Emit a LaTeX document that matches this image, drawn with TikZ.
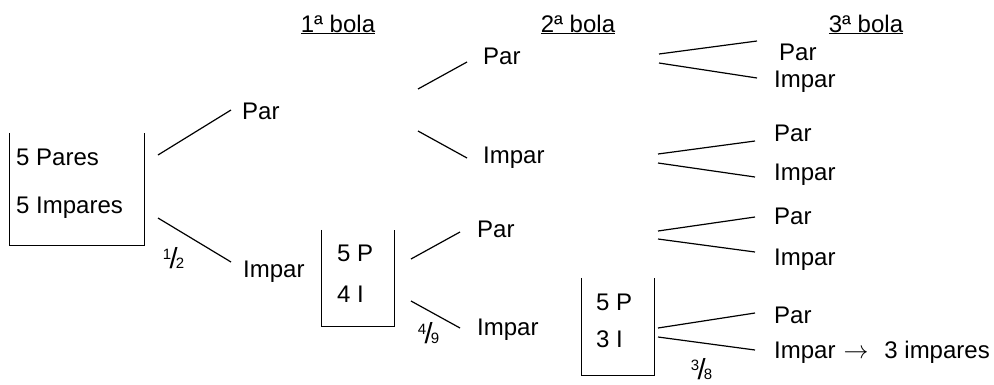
\documentclass[tikz,border=0pt]{standalone}
\usepackage{fontspec}
\setmainfont{Liberation Sans}
\newcommand{\fracbola}[2]{\raisebox{9pt}{#1}\kern-1.5pt{\fontsize{29}{29}\selectfont/}\kern-2pt#2}

\begin{document}
\begin{tikzpicture}[x=1pt,y=-1pt,
    lbl/.style={anchor=base west,inner sep=0pt,font=\fontsize{24}{28}\selectfont},
    cabeza/.style={anchor=base,inner sep=0pt,font=\fontsize{24}{28}\selectfont},
    frac/.style={inner sep=0pt,font=\fontsize{15}{15}\selectfont},
    urna/.style={inner sep=0pt,minimum width=72pt},
    rama/.style={line width=1.2pt}]
  \useasboundingbox (0,0) rectangle (994,384);
  % titulos de columna
  \node[cabeza] (h1) at (338,32) {\underline{1ª bola}};
  \node[cabeza] (h2) at (578,32) {\underline{2ª bola}};
  \node[cabeza] (h3) at (866,32) {\underline{3ª bola}};
  % urnas
  \node[urna,minimum width=134pt,minimum height=112pt] (urna1) at (77,189) {};
  \node[urna,minimum height=96pt] (urna2) at (358,278) {};
  \node[urna,minimum height=97pt] (urna3) at (618,326.5) {};
  \foreach \u in {urna1,urna2,urna3}
    \draw[rama] (\u.north west) |- (\u.south east) -- (\u.north east);
  \node[lbl] (u1p) at (16,165) {5 Pares};
  \node[lbl] (u1i) at (16,213) {5 Impares};
  \node[lbl] (u2p) at (337,261) {5 P};
  \node[lbl] (u2i) at (337,302) {4 I};
  \node[lbl] (u3p) at (596,310) {5 P};
  \node[lbl] (u3i) at (596,347) {3 I};
  % 1a bola
  \node[lbl] (p1) at (242,119) {Par};
  \node[lbl] (i1) at (243,277) {Impar};
  % 2a bola
  \node[lbl] (pp) at (483,64) {Par};
  \node[lbl] (pi) at (483,163) {Impar};
  \node[lbl] (ip) at (477,237) {Par};
  \node[lbl] (ii) at (477,335) {Impar};
  % 3a bola
  \node[lbl] (ppp) at (779,60) {Par};
  \node[lbl] (ppi) at (774,87) {Impar};
  \node[lbl] (pip) at (774,141) {Par};
  \node[lbl] (pii) at (774,180) {Impar};
  \node[lbl] (ipp) at (774,224) {Par};
  \node[lbl] (ipi) at (774,265) {Impar};
  \node[lbl] (iip) at (774,323) {Par};
  \node[lbl] (iii) at (774,358) {Impar\kern8pt$\rightarrow$\kern16pt3 impares};
  % probabilidades
  \node[frac] (f1) at (173.5,258.5) {\fracbola{1}{2}};
  \node[frac] (f2) at (428.5,333.5) {\fracbola{4}{9}};
  \node[frac] (f3) at (701.5,369) {\fracbola{3}{8}};
  % ramas
  \foreach \r/\a/\b in {a1/{158,155}/{231,110}, a2/{158,218}/{231,262},
      b1/{418,89}/{467,62}, b2/{418,131}/{467,158},
      b3/{411,259}/{460,232}, b4/{411,301}/{460,328},
      c1/{659,54}/{757,41}, c2/{659,63}/{757,78},
      c3/{658,154}/{755,141}, c4/{658,163}/{755,177},
      c5/{658,231}/{755,217}, c6/{658,239}/{755,252},
      c7/{658,328}/{755,313}, c8/{658,337}/{755,350}} {
    \coordinate (\r i) at (\a);
    \coordinate (\r f) at (\b);
    \draw[rama] (\r i) -- (\r f);
  }
\end{tikzpicture}
\end{document}
